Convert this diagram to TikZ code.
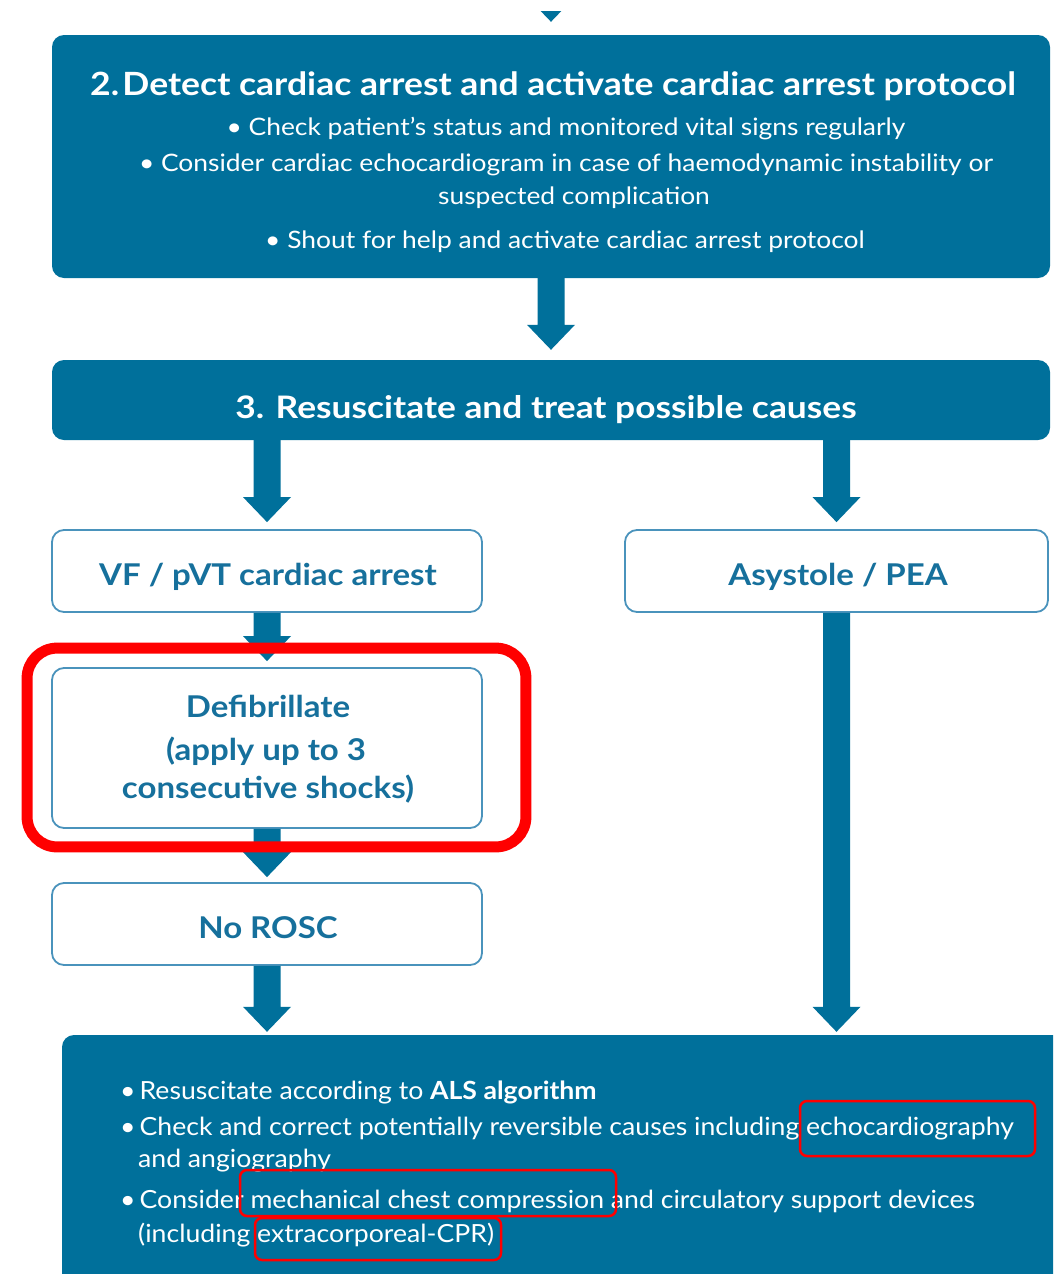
\documentclass[tikz,border=0pt]{standalone}
\usepackage{fontspec}
\setmainfont{Lato}
\newfontfamily\fa[FakeStretch=1.11]{Lato}
\newfontfamily\fb[FakeStretch=1.10]{Lato}
\newfontfamily\fc[FakeStretch=1.14]{Lato}
\newfontfamily\fd[FakeStretch=1.065]{Lato}
\usetikzlibrary{calc}
\definecolor{teal1}{HTML}{00709B}
\definecolor{lblue}{HTML}{4A93BC}
\definecolor{tblue}{HTML}{16709C}
\definecolor{hred}{HTML}{FF0000}
\newcommand\blockarrow[3][7]{%
  \fill[teal1] let \p1=(#2), \p2=(#3) in
   (\x1-13.5pt,\y1) -- (\x1+13.5pt,\y1) -- (\x1+13.5pt,\y2+#1pt+25pt)
   -- (\x1+24pt,\y2+#1pt+25pt) -- (\x1,\y2+#1pt) -- (\x1-24pt,\y2+#1pt+25pt)
   -- (\x1-13.5pt,\y2+#1pt+25pt) -- cycle;}
\begin{document}
\begin{tikzpicture}[x=1pt,y=-1pt,
  darkbox/.style={draw=none, fill=teal1, rounded corners=12pt, inner sep=0pt},
  lightbox/.style={draw=lblue, line width=1.8pt, fill=white, rounded corners=12pt, inner sep=0pt},
  ttl/.style={text=white, inner sep=0pt, anchor=base, font=\fontsize{32}{38}\fa\bfseries},
  ttlb/.style={text=white, inner sep=0pt, anchor=base, font=\fontsize{31}{36}\fc\bfseries},
  bul/.style={text=white, inner sep=0pt, anchor=base, font=\fontsize{24}{28}\fb},
  wb/.style={text=tblue, inner sep=0pt, anchor=base, font=\fontsize{30}{34}\fb\bfseries},
  bb/.style={text=white, inner sep=0pt, anchor=base west, font=\fontsize{25}{30}\fd},
  redhl/.style={draw=hred, line width=11pt, rounded corners=30pt},
  redsm/.style={draw=hred, line width=2.5pt, rounded corners=7pt}]
\useasboundingbox (0,0) rectangle (1053,1274);
\clip (0,0) rectangle (1053,1274);
\fill[white] (0,0) rectangle (1053,1274);

% boxes
\node[darkbox, minimum width=998pt, minimum height=243pt] (box2) at (551,156.5) {};
\node[darkbox, minimum width=998pt, minimum height=80pt] (box3) at (551,400) {};
\node[lightbox, minimum width=430pt, minimum height=82pt] (vf) at (267,571) {};
\node[lightbox, minimum width=423pt, minimum height=82pt] (asys) at (836.5,571) {};
\node[lightbox, minimum width=430pt, minimum height=160pt] (defib) at (267,748) {};
\node[lightbox, minimum width=430pt, minimum height=82pt] (rosc) at (267,924) {};
\node[darkbox, minimum width=1008pt, minimum height=275pt] (bottom) at (566,1172.5) {};

% connectors
\coordinate (topin) at (551,-40);
\begin{scope}
  \clip (0,11) rectangle (1053,40);
  \blockarrow[13]{topin}{box2.north}
\end{scope}
\blockarrow[10]{box2.south}{box3.north}
\blockarrow[7]{box3.south -| vf.north}{vf.north}
\blockarrow[7]{box3.south -| asys.north}{asys.north}
\blockarrow[6]{vf.south}{defib.north}
\blockarrow[5]{defib.south}{rosc.north}
\blockarrow[3]{rosc.south}{rosc.south |- bottom.north}
\blockarrow[3]{asys.south}{asys.south |- bottom.north}

% texts box 2
\node[ttl] (t2) at (553,95) {2.\hspace{0.1em}Detect cardiac arrest and activate cardiac arrest protocol};
\node[bul] (t2a) at (566,135) {• Check patient’s status and monitored vital signs regularly};
\node[bul] (t2b) at (566,171) {• Consider cardiac echocardiogram in case of haemodynamic instability or};
\node[bul] (t2c) at (574,204) {suspected complication};
\node[bul] (t2d) at (565,248) {• Shout for help and activate cardiac arrest protocol};
% box 3
\node[ttlb] (t3) at (546,418) {3. Resuscitate and treat possible causes};
% white boxes
\node[wb] (tvf) at (268,585) {VF / pVT cardiac arrest};
\node[wb] (tas) at (838,585) {Asystole / PEA};
\node[wb] (td1) at (268,717) {Defibrillate};
\node[wb] (td2) at (266,760) {(apply up to 3};
\node[wb] (td3) at (268,798) {consecutive shocks)};
\node[wb] (tno) at (268,938) {No ROSC};
% bottom box
\node[bb] (b1) at (120,1099) {•\hspace{4pt}Resuscitate according to \textbf{ALS algorithm}};
\node[bb] (b2) at (120,1135) {•\hspace{4pt}Check and correct potentially reversible causes including echocardiography};
\node[bb] (b3) at (138,1167) {and angiography};
\node[bb] (b4) at (120,1208) {•\hspace{4pt}Consider mechanical chest compression and circulatory support devices};
\node[bb] (b5) at (138,1242) {(including extracorporeal-CPR)};

% highlights
\draw[redhl] ($(defib.north west)+(-24,-19)$) rectangle ($(defib.south east)+(43,18)$);
\draw[redsm] (800,1101) rectangle (1035,1156);
\draw[redsm] (240,1170) rectangle (616,1216);
\draw[redsm] (255,1218) rectangle (501,1260);
\end{tikzpicture}
\end{document}
